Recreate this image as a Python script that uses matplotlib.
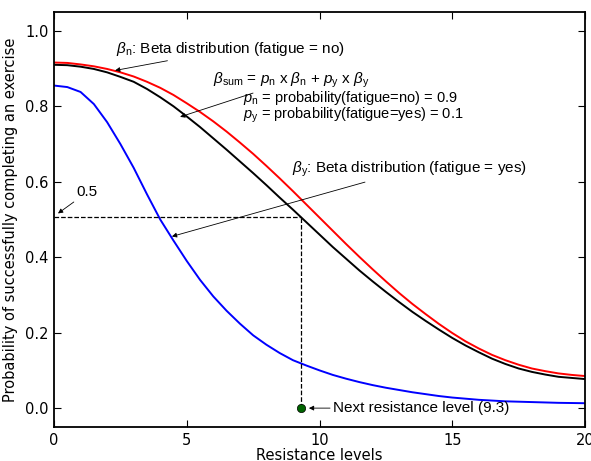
import numpy as np
import matplotlib
matplotlib.use("Agg")
import matplotlib.pyplot as plt

# values (half-step resistance levels)
resistance = [0, 0.5, 1, 1.5, 2, 2.5, 3, 3.5, 4, 4.5, 5, 5.5, 6, 6.5, 7, 7.5, 8, 8.5,
              9, 9.5, 10, 10.5, 11, 11.5, 12, 12.5, 13, 13.5, 14, 14.5, 15, 15.5,
              16, 16.5, 17, 17.5, 18, 18.5, 19, 19.5, 20]
beta_n = [0.916, 0.915, 0.911, 0.906, 0.899, 0.890, 0.879, 0.865, 0.849, 0.830, 0.808,
          0.785, 0.760, 0.733, 0.704, 0.674, 0.642, 0.609, 0.575, 0.540, 0.505, 0.470,
          0.435, 0.401, 0.368, 0.336, 0.305, 0.276, 0.249, 0.223, 0.199, 0.177, 0.158,
          0.141, 0.127, 0.115, 0.105, 0.098, 0.092, 0.088, 0.085]
beta_sum = [0.910, 0.909, 0.905, 0.899, 0.890, 0.878, 0.865, 0.846, 0.824, 0.800, 0.773,
            0.745, 0.715, 0.685, 0.654, 0.623, 0.591, 0.558, 0.526, 0.493, 0.460, 0.427,
            0.396, 0.365, 0.336, 0.308, 0.281, 0.255, 0.231, 0.208, 0.186, 0.166, 0.148,
            0.131, 0.117, 0.105, 0.096, 0.089, 0.083, 0.080, 0.077]
beta_y = [0.855, 0.851, 0.838, 0.806, 0.758, 0.700, 0.637, 0.567, 0.500, 0.444, 0.390,
          0.340, 0.296, 0.258, 0.224, 0.193, 0.168, 0.146, 0.127, 0.113, 0.100, 0.088,
          0.078, 0.069, 0.061, 0.054, 0.048, 0.042, 0.037, 0.032, 0.028, 0.025, 0.022,
          0.020, 0.018, 0.017, 0.016, 0.015, 0.014, 0.0135, 0.013]

next_level = 9.3
threshold = 0.507

plt.rcParams['mathtext.fontset'] = 'custom'
plt.rcParams['mathtext.rm'] = 'Liberation Sans'
plt.rcParams['mathtext.it'] = 'Liberation Sans:italic'

fig = plt.figure(figsize=(5.91, 4.61), dpi=100)
ax = fig.add_axes([0.0914, 0.0738, 0.8985, 0.9002])

ax.plot(resistance, beta_n, color='red', lw=1.4)
ax.plot(resistance, beta_sum, color='black', lw=1.4)
ax.plot(resistance, beta_y, color='blue', lw=1.4)

ax.plot([0, next_level], [threshold, threshold], ls='--', color='k', lw=0.9)
ax.plot([next_level, next_level], [0, threshold], ls='--', color='k', lw=0.9)
ax.plot([next_level], [0], 'o', color='#006400', mec='k', mew=0.5, ms=6)

txt = dict(family='Liberation Sans', fontsize=11)
arr = dict(arrowstyle='-|>', color='k', lw=0.6, mutation_scale=7,
           shrinkA=0, shrinkB=0)

ax.annotate(r'$\beta_\mathrm{n}$: Beta distribution (fatigue = no)',
            xy=(2.30, 0.895), xytext=(2.35, 0.952), va='center', ha='left',
            arrowprops=arr, **txt)
ax.annotate(r'$\beta_\mathrm{sum}$ = $p_\mathrm{n}$ x $\beta_\mathrm{n}$ + $p_\mathrm{y}$ x $\beta_\mathrm{y}$',
            xy=(4.75, 0.772), xytext=(5.98, 0.868), va='center', ha='left',
            arrowprops=arr, **txt)
ax.text(7.12, 0.822, r'$p_\mathrm{n}$ = probability(fatigue=no) = 0.9',
        va='center', ha='left', family='Liberation Sans', fontsize=10.5)
ax.text(7.12, 0.777, r'$p_\mathrm{y}$ = probability(fatigue=yes) = 0.1',
        va='center', ha='left', family='Liberation Sans', fontsize=10.5)
ax.annotate(r'$\beta_\mathrm{y}$: Beta distribution (fatigue = yes)',
            xy=(4.44, 0.455), xytext=(8.95, 0.632), va='center', ha='left',
            arrowprops=arr, **txt)
ax.annotate('0.5', xy=(0.15, 0.516), xytext=(0.85, 0.572), va='center', ha='left',
            arrowprops=arr, **txt)
ax.annotate('Next resistance level (9.3)', xy=(next_level + 0.3, 0),
            xytext=(10.5, 0), va='center', ha='left', arrowprops=arr, **txt)

ax.set_xlim(0, 20)
ax.set_ylim(-0.05, 1.05)
ax.set_xticks([0, 5, 10, 15, 20])
ax.set_yticks([0.0, 0.2, 0.4, 0.6, 0.8, 1.0])
ax.set_yticklabels(['0.0', '0.2', '0.4', '0.6', '0.8', '1.0'])
ax.tick_params(direction='in', top=True, right=True, length=5, labelsize=10.5, pad=4)
for sp in ax.spines.values():
    sp.set_linewidth(1.3)

ax.set_xlabel('Resistance levels', fontsize=10.5, labelpad=0)
ax.set_ylabel('Probability of successfully completing an exercise', fontsize=10.5, labelpad=5)

fig.savefig('out.png', dpi=100)
